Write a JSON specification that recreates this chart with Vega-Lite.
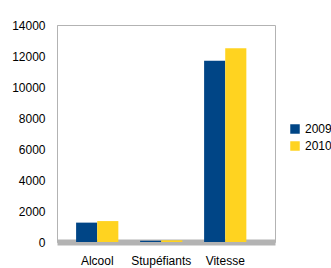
{
  "$schema": "https://vega.github.io/schema/vega-lite/v6.json",
  "autosize": "none",
  "width": 218,
  "height": 217,
  "padding": {"left": 57, "top": 25, "right": 56, "bottom": 26},
  "background": "white",
  "config": {
    "font": "Liberation Sans",
    "view": {"stroke": "#b3b3b3", "strokeWidth": 1}
  },
  "data": {
    "values": [
      {"cat": "Alcool", "year": "2009", "value": 1250},
      {"cat": "Alcool", "year": "2010", "value": 1350},
      {"cat": "Stupéfiants", "year": "2009", "value": 80},
      {"cat": "Stupéfiants", "year": "2010", "value": 110},
      {"cat": "Vitesse", "year": "2009", "value": 11700},
      {"cat": "Vitesse", "year": "2010", "value": 12500}
    ]
  },
  "mark": {"type": "bar", "stroke": null},
  "encoding": {
    "x": {
      "field": "cat", "type": "nominal", "sort": null, "title": null,
      "scale": {"paddingInner": 0.34, "paddingOuter": 0.373, "align": 0.4},
      "axis": {"labelAngle": 0, "labelFontSize": 12, "labelColor": "#000", "ticks": false, "domainColor": "#b3b3b3", "domainWidth": 6, "labelPadding": 13}
    },
    "xOffset": {"field": "year", "type": "nominal"},
    "y": {
      "field": "value", "type": "quantitative", "title": null,
      "scale": {"domain": [0, 14000], "nice": false},
      "axis": {"values": [0, 2000, 4000, 6000, 8000, 10000, 12000, 14000], "format": "d", "labelFontSize": 12, "labelColor": "#000", "ticks": false, "labelPadding": 12, "domainColor": "#b3b3b3", "grid": false}
    },
    "color": {
      "field": "year", "type": "nominal", "title": null,
      "scale": {"domain": ["2009", "2010"], "range": ["#004586", "#ffd320"]},
      "legend": {"orient": "none", "legendX": 232, "legendY": 98, "symbolType": "square", "symbolSize": 90, "labelFontSize": 12, "labelColor": "#000", "rowPadding": 5, "symbolStrokeWidth": 0}
    }
  }
}
